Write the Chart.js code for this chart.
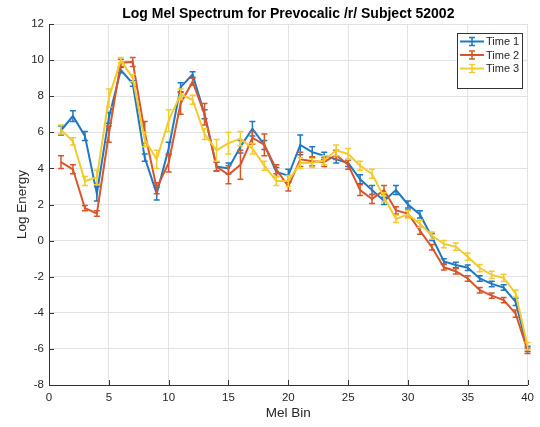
<!DOCTYPE html>
<html>
<head>
<meta charset="utf-8">
<script src="https://cdn.jsdelivr.net/npm/chart.js@4/dist/chart.umd.min.js"></script>
<style>
    html, body { margin: 0; padding: 0; background: #fff; }
    #chart { display: block; }
</style>
</head>
<body>
<canvas id="chart" width="540" height="427"></canvas>
<script>
// Mel bins 1..40
const melBins = [1, 2, 3, 4, 5, 6, 7, 8, 9, 10, 11, 12, 13, 14, 15, 16, 17, 18, 19, 20,
    21, 22, 23, 24, 25, 26, 27, 28, 29, 30, 31, 32, 33, 34, 35, 36, 37, 38, 39, 40];

const seriesNames = ['Time 1', 'Time 2', 'Time 3'];

// mean log energy per bin
const time1 = [6.1, 6.9, 5.8, 2.6, 6.8, 9.45, 8.7, 4.6, 2.6, 5.1, 8.5, 9.2, 7.0, 4.1, 4.0, 5.2, 6.2, 5.3, 3.8, 3.6,
    5.3, 4.9, 4.7, 4.5, 4.3, 3.4, 2.8, 2.2, 2.8, 2.0, 1.45, 0.2, -1.15, -1.35, -1.5, -2.1, -2.4, -2.6, -3.4, -6.0];
const time2 = [4.35, 3.95, 1.8, 1.5, 5.9, 9.85, 9.9, 6.0, 2.9, 4.3, 7.6, 8.8, 7.0, 4.1, 3.65, 4.2, 5.7, 5.3, 3.95, 3.0,
    4.5, 4.4, 4.35, 4.75, 4.2, 2.8, 2.3, 2.8, 1.67, 1.5, 0.55, -0.37, -1.48, -1.7, -2.1, -2.75, -3.05, -3.3, -4.05, -6.1];
const time3 = [6.15, 5.5, 3.3, 3.5, 7.9, 10.0, 9.0, 5.6, 4.5, 6.65, 8.1, 7.8, 5.9, 5.0, 5.4, 5.65, 5.1, 4.15, 3.3, 3.3,
    4.3, 4.3, 4.45, 5.0, 4.8, 4.15, 3.7, 2.4, 1.2, 1.45, 0.93, 0.28, -0.19, -0.33, -0.89, -1.52, -1.9, -2.07, -2.93, -5.85];

// half-length of the error bars
const err1 = [0.25, 0.3, 0.25, 0.4, 0.3, 0.15, 0.15, 0.2, 0.35, 0.35, 0.25, 0.15, 0.25, 0.25, 0.3, 0.35, 0.4, 0.25, 0.25, 0.35,
    0.55, 0.3, 0.2, 0.2, 0.2, 0.25, 0.25, 0.2, 0.25, 0.2, 0.2, 0.2, 0.15, 0.15, 0.15, 0.15, 0.15, 0.15, 0.2, 0.15];
const err2 = [0.35, 0.25, 0.15, 0.15, 0.45, 0.2, 0.25, 0.6, 0.3, 0.5, 0.6, 0.2, 0.6, 0.25, 0.5, 0.8, 0.35, 0.6, 0.25, 0.25,
    0.4, 0.25, 0.25, 0.25, 0.25, 0.3, 0.25, 0.25, 0.2, 0.2, 0.2, 0.15, 0.15, 0.15, 0.15, 0.15, 0.15, 0.15, 0.2, 0.15];
const err3 = [0.25, 0.2, 0.25, 0.4, 0.5, 0.15, 0.2, 0.4, 0.5, 0.6, 0.3, 0.25, 0.3, 0.6, 0.6, 0.4, 0.3, 0.25, 0.25, 0.3,
    0.3, 0.25, 0.25, 0.3, 0.3, 0.25, 0.25, 0.25, 0.2, 0.2, 0.2, 0.2, 0.2, 0.2, 0.2, 0.2, 0.2, 0.2, 0.2, 0.2];

const colors = ['#1f78c1', '#d9552a', '#f2cb2c'];
const axisColor = '#333333';
const textColor = '#262626';
const FONT = '"Liberation Sans", Arial, Helvetica, sans-serif';

function points(values) {
    return melBins.map((b, i) => ({ x: b, y: values[i] }));
}

// vertical error bars with caps, drawn right after each line
const errorBars = {
    id: 'errorBars',
    afterDatasetDraw(chart, args) {
        const ds = chart.data.datasets[args.index];
        if (!ds.errors) return;
        const { ctx, scales: { x, y } } = chart;
        ctx.save();
        ctx.strokeStyle = ds.borderColor;
        ctx.lineWidth = 1.5;
        ds.data.forEach((p, i) => {
            const px = x.getPixelForValue(p.x);
            const top = y.getPixelForValue(p.y + ds.errors[i]);
            const bot = y.getPixelForValue(p.y - ds.errors[i]);
            ctx.beginPath();
            ctx.moveTo(px, top); ctx.lineTo(px, bot);
            ctx.moveTo(px - 3, top); ctx.lineTo(px + 3, top);
            ctx.moveTo(px - 3, bot); ctx.lineTo(px + 3, bot);
            ctx.stroke();
        });
        ctx.restore();
    }
};

// inward tick marks on the left and bottom axes
const innerTicks = {
    id: 'innerTicks',
    beforeDatasetsDraw(chart) {
        const { ctx, chartArea: a, scales: { x, y } } = chart;
        ctx.save();
        ctx.strokeStyle = axisColor;
        ctx.lineWidth = 1;
        ctx.beginPath();
        x.ticks.forEach(t => {
            const px = Math.round(x.getPixelForValue(t.value)) + 0.5;
            ctx.moveTo(px, a.bottom); ctx.lineTo(px, a.bottom - 5);
        });
        y.ticks.forEach(t => {
            const py = Math.round(y.getPixelForValue(t.value)) + 0.5;
            ctx.moveTo(a.left, py); ctx.lineTo(a.left + 5, py);
        });
        ctx.stroke();
        ctx.restore();
    }
};

// boxed legend in the upper right corner
const boxLegend = {
    id: 'boxLegend',
    afterDraw(chart) {
        const { ctx } = chart;
        const bx = 457, by = 33, bw = 65, bh = 55;
        ctx.save();
        ctx.fillStyle = '#ffffff';
        ctx.fillRect(bx, by, bw, bh);
        ctx.strokeStyle = axisColor;
        ctx.lineWidth = 1;
        ctx.strokeRect(bx + 0.5, by + 0.5, bw, bh);
        ctx.font = '11px ' + FONT;
        ctx.textBaseline = 'middle';
        chart.data.datasets.forEach((ds, i) => {
            const ly = by + 8.5 + i * 13.5;
            const mid = bx + 15;
            ctx.strokeStyle = ds.borderColor;
            ctx.lineWidth = 2;
            ctx.beginPath();
            ctx.moveTo(bx + 3, ly); ctx.lineTo(bx + 27, ly);
            ctx.stroke();
            ctx.lineWidth = 1.5;
            ctx.beginPath();
            ctx.moveTo(mid, ly - 4); ctx.lineTo(mid, ly + 4);
            ctx.moveTo(mid - 3, ly - 4); ctx.lineTo(mid + 3, ly - 4);
            ctx.moveTo(mid - 3, ly + 4); ctx.lineTo(mid + 3, ly + 4);
            ctx.stroke();
            ctx.fillStyle = textColor;
            ctx.fillText(ds.label, bx + 29, ly + 0.5);
        });
        ctx.restore();
    }
};

const allValues = [time1, time2, time3];
const allErrors = [err1, err2, err3];

const datasets = seriesNames.map((name, i) => ({
    label: name,
    data: points(allValues[i]),
    errors: allErrors[i],
    borderColor: colors[i],
    backgroundColor: colors[i],
    borderWidth: 2,
    pointRadius: 0,
    tension: 0,
    order: 3 - i
}));

new Chart(document.getElementById('chart'), {
    type: 'line',
    data: { datasets },
    options: {
        responsive: false,
        animation: false,
        layout: { padding: { top: 0, right: 11, bottom: 0, left: 0 } },
        plugins: {
            legend: { display: false },
            tooltip: { enabled: false },
            title: {
                display: true,
                fullSize: false,
                text: 'Log Mel Spectrum for Prevocalic /r/ Subject 52002',
                color: '#000000',
                font: { family: FONT, size: 14, weight: 'bold', lineHeight: 1.2 },
                padding: { top: 6, bottom: 1.2 }
            }
        },
        scales: {
            x: {
                type: 'linear',
                min: 0,
                max: 40,
                ticks: {
                    stepSize: 5,
                    padding: 6,
                    color: textColor,
                    font: { family: FONT, size: 11.5 }
                },
                grid: { color: '#e2e2e2', drawTicks: false },
                border: { display: true, color: axisColor, width: 1 },
                title: {
                    display: true,
                    text: 'Mel Bin',
                    color: textColor,
                    font: { family: FONT, size: 13.5, lineHeight: 1.2 },
                    padding: { top: 0, bottom: 6 }
                },
                afterFit(scale) { scale.height = 42; }
            },
            y: {
                min: -8,
                max: 12,
                ticks: {
                    stepSize: 2,
                    padding: 5,
                    color: textColor,
                    font: { family: FONT, size: 11.5 }
                },
                grid: { color: '#e2e2e2', drawTicks: false },
                border: { display: true, color: axisColor, width: 1 },
                title: {
                    display: true,
                    text: 'Log Energy',
                    color: textColor,
                    font: { family: FONT, size: 13.5, lineHeight: 1.2 },
                    padding: { top: 14, bottom: 0 }
                },
                afterFit(scale) { scale.width = 49; }
            }
        }
    },
    plugins: [errorBars, innerTicks, boxLegend]
});
</script>
</body>
</html>
